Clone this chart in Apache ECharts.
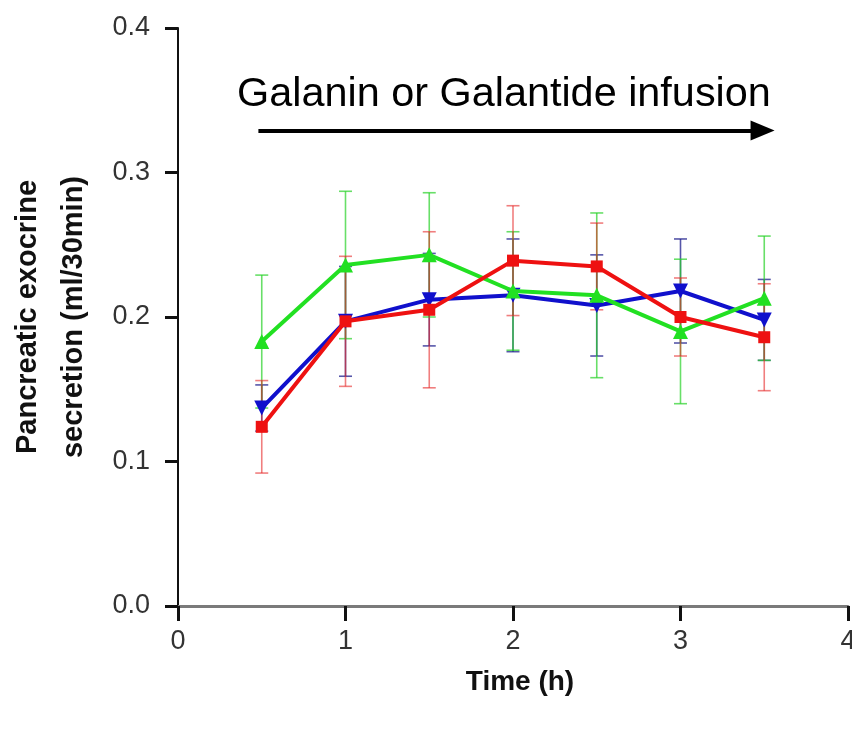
<!DOCTYPE html>
<html>
<head>
<meta charset="utf-8">
<script src="https://cdn.jsdelivr.net/npm/echarts@6/dist/echarts.min.js"></script>
<style>
  html, body { margin: 0; padding: 0; background: #fff; }
  #chart { width: 852px; height: 729px; }
</style>
</head>
<body>
<div id="chart"></div>
<script>
// Sampling times (h)
const timePoints = [0.5, 1, 1.5, 2, 2.5, 3, 3.5];

// Mean secretion (ml/30min) and error (+/-) for each group
const greenMean = [0.183, 0.236, 0.243, 0.218, 0.215, 0.190, 0.213];
const greenErr  = [0.046, 0.051, 0.043, 0.041, 0.057, 0.050, 0.043];
const blueMean  = [0.137, 0.197, 0.212, 0.215, 0.208, 0.218, 0.198];
const blueErr   = [0.016, 0.038, 0.032, 0.039, 0.035, 0.036, 0.028];
const redMean   = [0.124, 0.197, 0.205, 0.239, 0.235, 0.200, 0.186];
const redErr    = [0.032, 0.045, 0.054, 0.038, 0.030, 0.027, 0.037];

// Infusion period arrow (start and end time, level)
const infusionStart = 0.48;
const infusionEnd = 3.49;
const infusionLevel = 0.329;
const infusionText = 'Galanin or Galantide infusion';

const chart = echarts.init(document.getElementById('chart'));

function pairs(means) {
  return timePoints.map((t, i) => [t, means[i]]);
}
function errData(means, errs) {
  return timePoints.map((t, i) => [t, means[i] - errs[i], means[i] + errs[i]]);
}
function errorSeries(means, errs, color, z) {
  return {
    type: 'custom',
    z: z,
    silent: true,
    data: errData(means, errs),
    renderItem: function (params, api) {
      const x = api.value(0);
      const lo = api.coord([x, api.value(1)]);
      const hi = api.coord([x, api.value(2)]);
      const cap = 6.5;
      const style = { stroke: color, lineWidth: 1.6, fill: null };
      return {
        type: 'group',
        children: [
          { type: 'line', shape: { x1: lo[0], y1: lo[1], x2: hi[0], y2: hi[1] }, style: style },
          { type: 'line', shape: { x1: lo[0] - cap, y1: lo[1], x2: lo[0] + cap, y2: lo[1] }, style: style },
          { type: 'line', shape: { x1: hi[0] - cap, y1: hi[1], x2: hi[0] + cap, y2: hi[1] }, style: style }
        ]
      };
    }
  };
}
function meanSeries(name, means, color, symbol, size, z) {
  return {
    name: name,
    type: 'line',
    z: z,
    data: pairs(means),
    symbol: symbol,
    symbolSize: size,
    lineStyle: { color: color, width: 4 },
    itemStyle: { color: color },
    animation: false
  };
}

const tickFont = {
  fontFamily: '"Liberation Sans Narrow", "Liberation Sans", Arial, sans-serif',
  fontSize: 27,
  color: '#333'
};

const option = {
  animation: false,
  grid: { left: 178, right: 4, top: 28, bottom: 123, containLabel: false, outerBoundsMode: 'none' },
  xAxis: {
    type: 'value',
    min: 0, max: 4, interval: 1,
    name: 'Time (h)',
    nameLocation: 'middle',
    nameGap: 62,
    nameTextStyle: { fontFamily: '"Liberation Sans", Arial, sans-serif', fontWeight: 'bold', fontSize: 28, color: '#111', padding: [0, 0, 0, 14] },
    axisLine: { onZero: false, lineStyle: { color: '#7a7a7a', width: 3 } },
    axisTick: { length: 15, lineStyle: { color: '#111', width: 3 } },
    axisLabel: Object.assign({ margin: 22, formatter: v => String(v) }, tickFont),
    splitLine: { show: false }
  },
  yAxis: {
    type: 'value',
    min: 0, max: 0.4, interval: 0.1,
    name: 'Pancreatic exocrine\nsecretion (ml/30min)',
    nameLocation: 'middle',
    nameRotate: 90,
    nameGap: 81,
    nameTextStyle: { fontFamily: '"Liberation Sans", Arial, sans-serif', fontWeight: 'bold', fontSize: 29, lineHeight: 46, color: '#111' },
    axisLine: { lineStyle: { color: '#111', width: 2 } },
    axisTick: { length: 13, lineStyle: { color: '#111', width: 3 } },
    axisLabel: Object.assign({ margin: 28, formatter: v => v.toFixed(1) }, tickFont),
    splitLine: { show: false }
  },
  series: [
    errorSeries(blueMean, blueErr, 'rgba(30,30,140,0.75)', 2),
    errorSeries(greenMean, greenErr, 'rgba(40,210,40,0.7)', 2),
    errorSeries(redMean, redErr, 'rgba(230,40,40,0.6)', 2),
    meanSeries('blue', blueMean, '#1010cc', 'path://M0,0 L10,0 L5,10 Z', 15, 5),
    meanSeries('green', greenMean, '#22e022', 'triangle', 15, 6),
    Object.assign(meanSeries('red', redMean, '#ee1111', 'rect', 12, 7), {
      markLine: {
        silent: true,
        symbol: ['none', 'triangle'],
        symbolSize: [20, 24],
        lineStyle: { color: '#000', width: 4, type: 'solid' },
        label: { show: false },
        data: [[
          { coord: [infusionStart, infusionLevel] },
          { coord: [infusionEnd, infusionLevel] }
        ]]
      }
    })
  ],
  graphic: [{
    type: 'text',
    left: 237,
    top: 74,
    style: {
      text: infusionText,
      fontFamily: '"Liberation Sans", Arial, sans-serif',
      fontSize: 41.4,
      fill: '#000'
    }
  }]
};

chart.setOption(option);
</script>
</body>
</html>
